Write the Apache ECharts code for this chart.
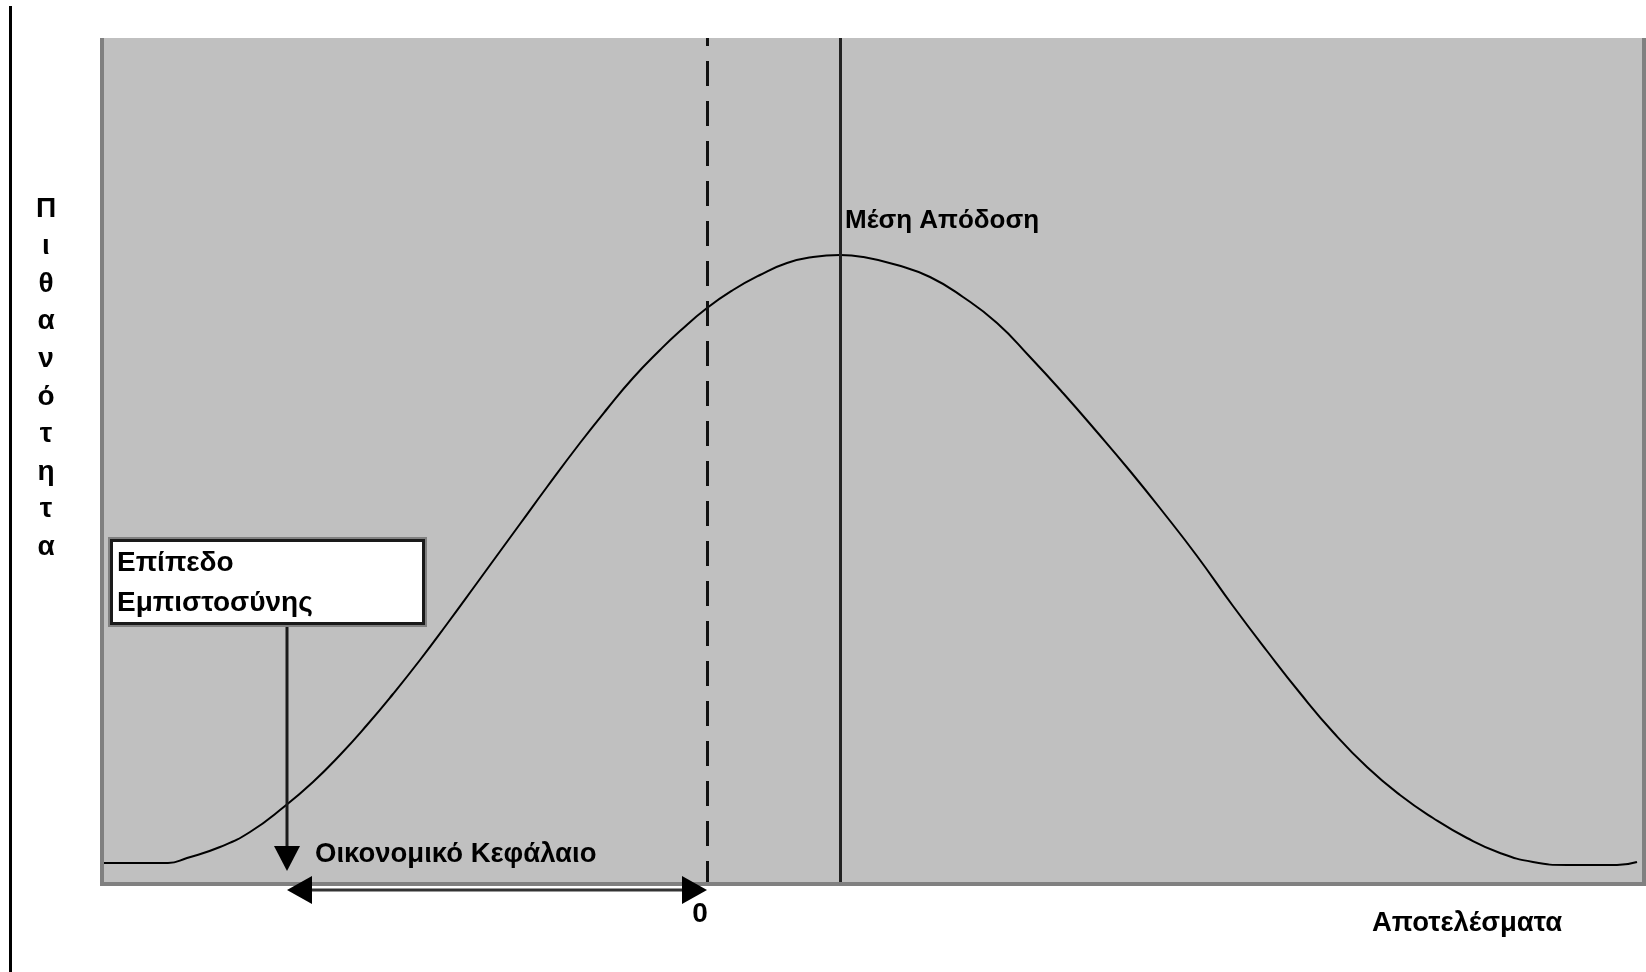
<!DOCTYPE html>
<html><head><meta charset="utf-8">
<script src="https://cdn.jsdelivr.net/npm/echarts/dist/echarts.min.js"></script>
<style>html,body{margin:0;padding:0;background:#fff}#c{width:1646px;height:972px}</style>
</head><body><div id="c"></div>
<script>
// ---- data ----
const curveX = [-60.4, -53.9, -52.0, -48.7, -45.7, -42.2, -39.4, -36.7, -34.0, -31.4, -28.7, -26.0, -23.0, -21.4, -18.7, -16.0, -12.7, -10.0, -7.4, -4.7, -2.7, 0.0, 2.6, 5.3, 8.0, 10.6, 13.3, 15.6, 19.0, 22.3, 25.6, 29.0, 32.3, 35.6, 39.0, 42.3, 45.6, 49.0, 52.6, 56.0, 59.3, 62.6, 66.0, 69.3, 72.6, 76.0, 79.3, 82.6, 86.0, 91.0, 93.0];
const curveY = [2.3, 2.3, 2.8, 3.9, 5.4, 8.0, 10.4, 13.1, 16.1, 19.2, 22.6, 26.2, 30.3, 32.5, 36.2, 39.9, 44.3, 47.7, 50.8, 53.6, 55.5, 57.8, 59.6, 61.1, 62.3, 62.9, 63.1, 62.9, 62.1, 60.9, 58.9, 56.3, 52.9, 49.3, 45.4, 41.5, 37.4, 33.0, 28.0, 23.5, 19.3, 15.4, 11.9, 9.1, 6.8, 4.8, 3.3, 2.4, 2.1, 2.1, 2.4];
const zeroResult = 0;
const meanResult = 13.3;
const confidenceResult = -42.0;
const xRange = [-60.7, 93.9];
const yRange = [0, 84.8];
const yAxisTitle = 'Πιθανότητα';
const xAxisTitle = 'Αποτελέσματα';
const meanLabel = 'Μέση Απόδοση';
const capitalLabel = 'Οικονομικό Κεφάλαιο';
const confidenceLabel = ['Επίπεδο', 'Εμπιστοσύνης'];
const zeroLabel = '0';

const FONT = "'Liberation Sans', Arial, sans-serif";
const chart = echarts.init(document.getElementById('c'), null, {renderer: 'canvas'});

chart.setOption({
  animation: false,
  backgroundColor: '#ffffff',
  grid: {left: 100, top: 38, width: 1546, height: 848, show: true, backgroundColor: '#c0c0c0', borderWidth: 0},
  xAxis: {type: 'value', min: xRange[0], max: xRange[1], show: false},
  yAxis: {type: 'value', min: yRange[0], max: yRange[1], show: false},
  series: [{
    type: 'line',
    data: curveX.map((x, i) => [x, curveY[i]]),
    smooth: 0.5,
    symbol: 'none',
    lineStyle: {color: '#000', width: 2},
    markLine: {
      silent: true,
      symbol: 'none',
      label: {show: false},
      data: [
        {xAxis: zeroResult, lineStyle: {color: '#111', width: 3, type: [25, 15]}},
        {xAxis: meanResult, lineStyle: {color: '#222', width: 3, type: 'solid'}}
      ]
    }
  }]
});

const px = (x, y) => chart.convertToPixel({gridIndex: 0}, [x, y]);
const pConf = px(confidenceResult, 0);
const pZero = px(zeroResult, 0);
const pMean = px(meanResult, yRange[1]);
const gBottom = pZero[1];
const arrowY = gBottom + 4;
const cx = pConf[0];

const txt = (text, x, y, size, extra) => Object.assign({
  type: 'text', x: x, y: y, z: 20,
  style: Object.assign({text: text, font: 'bold ' + size + 'px ' + FONT, fill: '#000', verticalAlign: 'middle'}, extra || {})
});

chart.setOption({
  graphic: [
    // frame
    {type: 'rect', shape: {x: 100, y: 38, width: 4, height: 848}, style: {fill: '#808080'}, z: 5},
    {type: 'rect', shape: {x: 100, y: 882, width: 1546, height: 4}, style: {fill: '#808080'}, z: 5},
    {type: 'rect', shape: {x: 1642, y: 38, width: 4, height: 848}, style: {fill: '#808080'}, z: 5},
    {type: 'rect', shape: {x: 9, y: 6, width: 3, height: 966}, style: {fill: '#000'}, z: 5},
    // confidence box
    {type: 'rect', shape: {x: 108, y: 537, width: 319, height: 90}, style: {fill: '#808080'}, z: 10},
    {type: 'rect', shape: {x: 111.5, y: 540.5, width: 312, height: 83}, style: {fill: '#fff', stroke: '#1a1a1a', lineWidth: 3}, z: 11},
    txt(confidenceLabel[0], 117, 563, 28),
    txt(confidenceLabel[1], 117, 603, 28),
    // vertical arrow from box
    {type: 'line', shape: {x1: cx, y1: 627, x2: cx, y2: 848}, style: {stroke: '#1a1a1a', lineWidth: 3}, z: 12},
    {type: 'polygon', shape: {points: [[cx - 13, 846], [cx + 13, 846], [cx, 871]]}, style: {fill: '#000'}, z: 12},
    // horizontal double arrow
    {type: 'line', shape: {x1: cx + 10, y1: arrowY, x2: pZero[0] - 10, y2: arrowY}, style: {stroke: '#333', lineWidth: 3}, z: 12},
    {type: 'polygon', shape: {points: [[cx, arrowY], [cx + 25, arrowY - 14], [cx + 25, arrowY + 14]]}, style: {fill: '#000'}, z: 12},
    {type: 'polygon', shape: {points: [[pZero[0], arrowY], [pZero[0] - 25, arrowY - 14], [pZero[0] - 25, arrowY + 14]]}, style: {fill: '#000'}, z: 12},
    // labels
    txt(meanLabel, pMean[0] + 5, 221, 26),
    txt(capitalLabel, cx + 28, 854, 27.5),
    txt(zeroLabel, pZero[0] - 7, 914, 28, {align: 'center'}),
    txt(xAxisTitle, 1372, 923, 27.5),
    {type: 'text', x: 46, y: 378, z: 20,
      style: {text: yAxisTitle.split('').join('\n'), font: 'bold 28px ' + FONT, fill: '#000', align: 'center', verticalAlign: 'middle', lineHeight: 37.6}}
  ]
});
</script>
</body></html>
